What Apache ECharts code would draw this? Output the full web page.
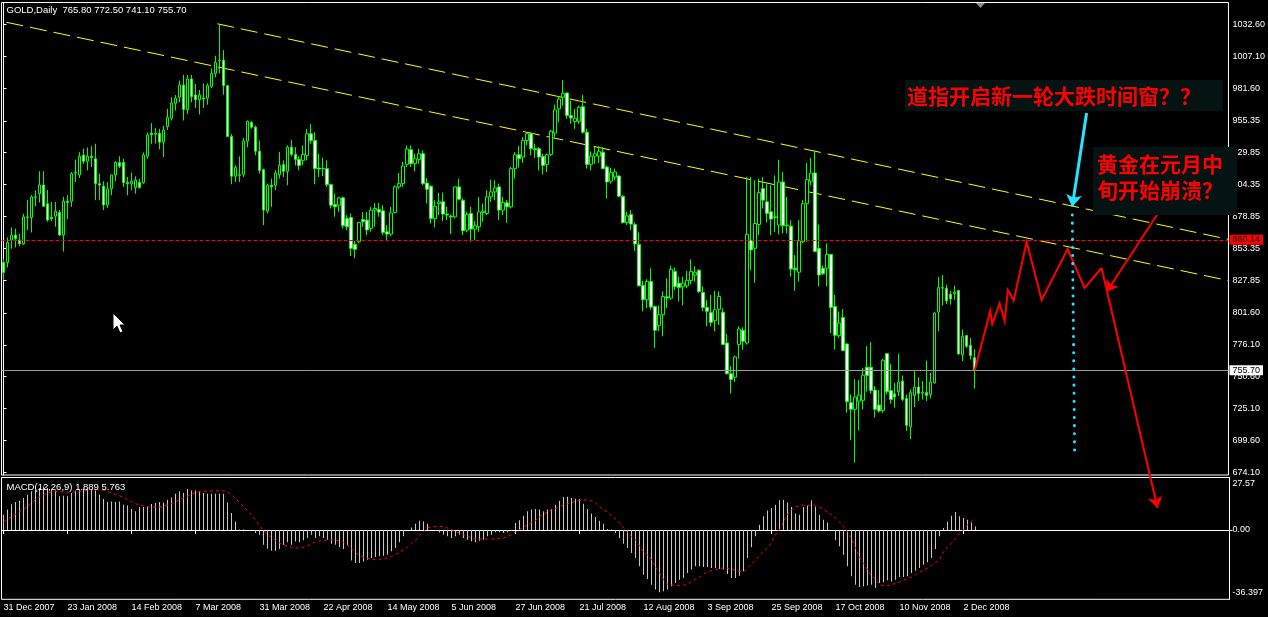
<!DOCTYPE html>
<html><head><meta charset="utf-8">
<script src="https://cdn.jsdelivr.net/npm/echarts@6/dist/echarts.min.js"></script>
<style>html,body{margin:0;padding:0;background:#000;}#c{width:1268px;height:617px;}</style>
</head><body><div id="c"></div>
<script>
// ---------- data ----------
const symbolName = 'GOLD,Daily';
const lastBar = ['765.80', '772.50', '741.10', '755.70'];
const macdTitle = 'MACD(12,26,9) 1.889 5.763';
const slotCount = 307;            // daily slots incl. empty future area
const dateLabels = ['31 Dec 2007','23 Jan 2008','14 Feb 2008','7 Mar 2008','31 Mar 2008','22 Apr 2008',
  '14 May 2008','5 Jun 2008','27 Jun 2008','21 Jul 2008','12 Aug 2008','3 Sep 2008','25 Sep 2008',
  '17 Oct 2008','10 Nov 2008','2 Dec 2008'];
const dateLabelStep = 16;
const priceTicks = [1032.60,1007.10,981.60,955.35,929.85,904.35,878.85,853.35,827.85,801.60,776.10,750.60,725.10,699.60,674.10];
const macdTicks = [27.57, 0, -36.397];
const macdTickText = ['27.57', '0.00', '-36.397'];
const priceLevel = 860.14;
const bidLevel = 755.70;
// [open, close, low, high]
const candles = [
[842,834,828,845],[842,858,838,862],[860,864,853,870],[864,861,854,869],[860,857,855,865],
[857,878.5,856,881],[878,878.5,868,892],[878,894.5,866,896],[894,894.5,887,899.8],[897,904,890,915],
[904,887,886.5,915],[889,876,874.6,900],[878,877,875,890.5],[879,883,870.6,890.5],[882,864,863.1,884],
[864,891,850.7,894.5],[891,890,876.7,896],[891,913,886.5,914.4],[913.5,914,906.4,924.2],[912,927,909.6,930.3],
[928,923,921,933],[923,927,915.7,934],[927,926,918.4,935],[925,905,892,937],[905,904,891.8,913],
[903,888,883.9,907],[888,901,885.7,906.4],[901,912,895.8,912.3],[912,922,907,923],[922,919,917.6,927],
[922,906,902.4,925],[906,905,895.8,910.4],[905,907,899.8,913.9],[902,908,897,911],[906,902,901,909],
[906,928,905,930],[927,944,925,946],[945.5,944.2,937,953.5],[944.5,945.5,937,949.7],[945.5,938.3,932.5,949],
[938.3,948,926.4,951.6],[950.8,958.2,948,965],[957.4,969.7,955.6,974.2],[969.4,973.4,963.6,976],[974.2,984,970.2,987.5],
[984,964.4,955.6,992.2],[964.4,988.8,960.9,992],[988.8,974.7,970.2,992],[976,972.3,965.7,984.8],[972.3,976,960.4,980],
[973.6,972.8,965.7,985.3],[973.6,983.5,968.3,985.3],[983,993.3,981.6,997.3],[993.3,1002.1,990.1,1007.4],[1003.4,1003.9,993.3,1032.1],
[1003.9,983.5,976.3,1011.9],[983.5,942.8,942.3,983.5],[942.8,911,904.6,944.8],[911,917.9,906.4,919.7],[912.3,911.8,906.4,926.9],
[912.6,939.1,910.4,941.8],[939.1,955.1,934.3,955.6],[954.2,950.3,949,955.1],[950.3,931.1,927.7,951.6],[931.1,915.7,913.1,939.6],
[916.3,883.9,871.9,917.1],[883.1,903.8,881.2,905.1],[903.8,902.5,886.5,909.1],[903.8,913.6,899.8,915.7],[912.3,919.7,909.1,930.4],
[920.3,915,910.4,923.7],[914.9,934.3,903.8,935.7],[934.3,928.5,926.9,940.2],[928.5,924.5,919.7,934.3],[924.5,919.7,915.7,926.9],
[923.7,928.5,919.7,935.7],[927.7,945,923.7,948.9],[945,939.6,937,952.9],[939.6,917.1,904.6,946.3],[917.6,916.8,910.4,929],
[917.1,917.3,911,925.9],[917.1,904.3,902.5,923.7],[904.3,887.8,885.2,905.1],[888.4,886.5,878.6,897.1],[887.8,893.7,882.5,894.5],
[893.7,871.4,869.3,894.5],[877.2,870.6,867.9,879.9],[878,853.3,847.2,881.2],[856.5,852.5,845.4,859.2],[858.6,874,857.3,874.6],
[876.4,874.6,870.6,882.5],[875.9,868,864,882.5],[869.3,883.9,866.6,886.5],[883.9,885.2,870.6,889.7],[884.4,882.3,878.6,889.7],
[883.3,866.1,864,887.8],[866.6,864.7,860,871.9],[864.7,881.7,863.2,886.5],[882,902.5,881.2,903.8],[902.5,905.1,901,913.6],
[905.1,919.2,902.5,922.4],[920.5,932.7,918.4,935.7],[932.2,921.1,918.4,935.7],[921.1,925,914.9,929],[924.5,929,921,933],
[929,905.1,903.8,931.7],[905.6,900.6,889.2,909.6],[903,877.2,873.2,903.8],[877.2,887,870,891.8],[889.2,890.5,879.9,897.7],
[890.5,880.7,875.1,898],[880.7,880,875.9,886.5],[879.1,878.5,864.7,880.4],[878.5,902.5,877.2,903],[902.5,892.6,891.8,909.1],
[891.8,867.4,863.9,893.2],[867.9,880.4,866.1,882.5],[881.2,868.7,858.6,886.5],[868.7,871.4,859.9,875.1],[870.6,882.5,866.6,894.5],
[882,883,874.6,889.2],[881.2,894.5,880,899.8],[894.5,898.5,890.5,908.3],[898.5,901.7,891.8,907.8],[902.5,883.9,875.9,905.1],
[883.9,890,879.9,894.5],[889.7,886.5,873.8,891.8],[886.5,917.1,885.2,918.4],[917.1,928.2,909.1,930.3],[928.2,925,917.9,935.1],
[926.4,939.6,921.6,942.3],[939.6,945,935.7,946.3],[945,933,927.7,946.3],[933,932.2,925.6,937],[933,926.4,915.7,934.3],
[926.9,919.7,912.3,929],[920.5,928.2,914.4,929],[928.5,947.1,927.1,948.1],[945.5,964.1,942.3,968.3],[964.9,972.8,954.2,974.9],
[974.2,977.3,967.5,988],[977.6,959.6,957,978],[959.6,957.7,952.9,971.5],[954.8,957.4,948.9,964.9],[955,966.2,952.9,967.5],
[966.7,946.3,945,976],[946.3,920.5,917.1,949],[920.5,927.1,915.7,930.9],[927.1,929,921,934.3],[927.1,931,921.6,935.1],
[930.3,917.1,917.1,934.3],[918.4,906.4,893.2,919.7],[907,913.9,905.1,917.6],[910.4,914.4,907.8,917.1],[911.2,895,894.5,911.7],
[895,874,873.2,895.8],[874,879.3,871.9,882.5],[880.4,872.7,867.9,883.9],[872.4,856.8,851.2,874],[856.5,823.3,822.8,866.1],
[823.6,812.2,802.9,827.3],[812.2,826.7,805.5,828.6],[826.7,806.3,804.2,837.4],[806.8,787.7,773.6,807.6],[791.4,800.2,787,807.6],
[800.2,814.8,782.9,818.8],[814.5,813.5,805.5,829.4],[813.5,836.6,812.2,839.5],[834.7,822.8,820.1,837.9],[825.4,822,810.8,830.7],
[822.5,825.4,807.6,830.7],[823.3,827.8,821.4,835.2],[827.5,834.7,824.6,844.5],[832,834.2,826.7,839],[835.8,818.8,817.5,836.6],
[818,806,802.9,822.8],[806,802.9,790.9,812],[801.9,794.1,790.9,816.1],[795.4,804.2,787,819.3],[804.5,814.8,792,818.8],
[802.1,776.3,776.3,805.5],[777.6,753,752.4,784.8],[752.9,748.4,737,759],[750.2,766.4,746.5,767.5],[776.3,788.8,765.1,790.9],
[787.7,779,772.3,790.1],[777.6,864.5,776.3,910.4],[859.9,852,836.1,910.4],[853.3,873.2,825.7,907.8],[872.4,897.9,863.9,909.1],
[901.1,891.8,885.2,910.4],[890.5,881.2,874,905.1],[882.5,876.7,863.9,903.8],[878.5,878,866.6,911.7],[871.9,906.4,864.5,924.2],
[906.4,871.4,865.3,914.4],[871.4,872,865.3,894.5],[871.1,836.8,830.7,875.9],[837.4,836.1,819.3,848],[834.2,859.4,826.7,875.9],
[858.6,889,857.3,891.8],[889.2,908.3,858.6,921.8],[907,913.6,903.8,925.6],[913.6,850.7,850.7,931.7],[853.3,832,822.8,872.4],
[837.4,832.9,832.1,839.5],[837.4,848.5,822.8,857.3],[848.5,806,785.6,848.5],[806.8,783.7,772.3,816.1],[783.5,793.5,781.6,802.8],
[798,771.5,771,804.7],[776.8,730.6,721.8,777.6],[729.8,724.5,699.8,736.4],[724.5,734.3,681.9,748.9],[731,735.9,707.7,747.9],
[731.7,751.8,724.5,757.7],[758.2,751.6,738.6,775],[758.2,739.6,736.9,778.4],[739.9,724.5,717.8,743.1],[727.9,723.2,721.8,739.9],
[723.6,763.8,721.8,764.9],[769,738.6,736.4,769.6],[739.6,732.4,729,761],[736.9,734.3,725.8,745.7],[738.6,746.3,735.1,768.8],
[747.1,732.4,731.1,751.6],[733.2,711.7,707.2,736.4],[710.7,737.8,700.6,740.4],[735.6,742.3,726.3,755],[742.3,737.2,731.1,750.2],
[737.4,738.3,732.4,747.1],[738,735.6,731.1,763.5],[736.4,746.3,733.2,753.7],[745.7,801.5,744.9,802.3],[802.3,821.9,786.9,830.6],
[821.4,822,807.6,832],[821.4,811.3,808.7,824.1],[816.6,812.9,808.2,819.3],[817,818.3,812.1,823.5],[819.6,768.8,768.3,820.1],
[768.3,782.9,763,788.2],[783.5,775,773.6,784.2],[775.7,767.5,764.3,781.6],[765.8,755.7,741.1,772.5]
];
const macdMain = [
8.0,10.7,13.5,14.7,15.4,16.8,18.5,20.3,21.2,22.0,
22.9,22.0,21.2,20.8,17.7,18.0,17.7,19.4,20.8,21.2,
21.5,21.5,21.5,20.8,18.5,16.3,14.7,15.0,14.7,15.0,
13.3,12.8,11.0,9.8,12.1,12.1,12.4,13.6,14.2,14.7,
14.5,15.9,17.1,19.1,20.3,19.4,21.5,20.8,20.8,20.3,
19.4,19.1,19.1,19.1,19.1,19.1,14.5,8.9,4.4,0.2,
0.2,0.05,0.0,-1.6,-2.5,-7.7,-9.8,-10.9,-10.9,-10.0,
-7.7,-6.5,-7.7,-6.0,-6.5,-5.4,-4.2,-2.5,-4.2,-3.3,
-4.2,-5.1,-7.2,-7.7,-9.0,-10.0,-8.2,-16.0,-17.3,-17.3,
-16.5,-15.6,-14.7,-14.2,-13.8,-13.5,-13.0,-11.2,-9.5,-6.5,
-3.3,-0.2,1.3,3.3,4.9,4.5,3.3,0.0,-0.5,-1.3,
-2.5,-3.3,-4.2,-3.3,-2.5,-4.2,-5.1,-5.9,-6.5,-5.6,
-5.1,-3.3,-2.5,-1.2,-1.2,-1.6,-1.2,-0.2,3.7,5.1,
7.5,9.8,10.7,11.0,10.7,9.8,10.7,11.0,13.3,15.4,
17.3,17.5,16.8,16.4,16.3,13.8,11.0,8.6,6.8,4.9,
3.3,0.5,0.2,-1.6,-4.2,-7.2,-9.5,-12.1,-14.7,-19.1,
-23.5,-25.7,-28.7,-31.3,-32.7,-32.2,-31.3,-29.6,-27.8,-26.1,
-25.2,-22.6,-20.8,-19.1,-19.1,-19.4,-19.4,-20.0,-20.0,-20.5,
-20.8,-23.1,-25.2,-25.2,-24.0,-21.7,-14.7,-9.1,-3.3,2.8,
7.2,10.3,11.5,13.3,15.6,15.9,14.5,12.1,8.6,8.0,
12.1,12.8,15.6,12.4,8.0,5.4,4.0,0.0,-5.4,-8.6,
-13.0,-19.1,-24.3,-28.7,-30.0,-29.6,-29.2,-28.7,-30.5,-27.8,
-27.5,-26.4,-27.0,-26.1,-24.7,-24.7,-24.3,-22.6,-21.4,-20.0,
-18.2,-17.0,-14.7,-10.0,-3.3,1.0,4.5,7.5,9.4,7.2,
6.3,5.4,4.0,1.889
];
const macdSignal = [
4.2,5.5,7.0,8.2,9.5,10.7,12.5,14.2,16.0,17.3,
18.5,19.4,19.9,20.3,20.2,20.0,19.8,19.9,20.0,20.3,
20.6,20.7,21.0,21.2,21.1,20.8,20.2,19.6,18.7,17.9,
17.3,16.0,14.8,13.8,13.2,12.8,12.3,12.1,12.1,12.2,
12.4,13.0,13.9,14.9,16.0,16.8,17.8,18.8,19.6,20.0,
20.3,20.5,20.5,20.6,20.6,20.6,20.0,18.6,16.5,14.5,
12.4,10.2,8.0,5.2,2.4,-0.4,-2.4,-4.0,-5.6,-6.8,
-7.7,-8.4,-9.0,-9.4,-9.4,-9.1,-8.2,-7.3,-6.3,-5.8,
-5.4,-5.2,-5.1,-5.3,-5.8,-6.5,-8.0,-9.9,-11.9,-13.3,
-14.2,-14.8,-15.3,-15.6,-15.5,-15.2,-14.6,-13.9,-12.8,-11.6,
-10.6,-9.0,-7.0,-5.5,-3.0,-0.8,1.0,1.7,1.9,1.9,
1.8,1.0,0.3,-0.7,-1.6,-2.5,-3.4,-4.1,-4.7,-4.7,
-4.7,-4.7,-4.7,-4.6,-4.4,-4.2,-3.4,-2.5,-1.1,0.2,
1.5,2.7,4.0,5.1,6.9,8.3,9.4,10.5,11.2,12.2,
13.3,13.7,14.4,15.0,15.6,15.8,15.8,15.2,14.2,12.3,
10.6,9.3,7.5,5.8,3.8,1.3,-1.2,-3.5,-5.1,-8.2,
-11.5,-13.0,-15.6,-19.5,-22.5,-26.1,-28.5,-28.8,-29.2,-29.2,
-29.0,-28.7,-27.1,-25.8,-24.8,-23.2,-21.8,-21.3,-20.9,-20.2,
-20.0,-20.1,-20.6,-21.3,-21.7,-22.1,-20.0,-17.8,-15.8,-13.3,
-11.3,-9.5,-6.5,-2.5,0.2,4.3,8.2,10.6,12.2,12.7,
12.8,12.8,13.2,13.0,12.1,10.9,9.4,8.0,6.3,4.2,
1.8,-1.0,-4.5,-9.6,-14.3,-17.5,-20.8,-24.3,-26.1,-28.9,
-29.2,-29.2,-28.8,-28.0,-27.5,-26.4,-25.6,-24.7,-23.5,-22.2,
-21.0,-20.0,-18.5,-17.1,-15.6,-11.5,-9.0,-7.0,-4.5,-2.0,
0.0,2.8,4.6,5.763
];
// drawn objects, [bar position, price]
const channelLower = [[0.75, 1034.2], [306.5, 827.5]];
const channelUpper = [[53.5, 1033.0], [306.5, 860.5]];
const forecastPath = [[243, 755.7],[246.9, 803.2],[247.4, 792.8],[249.25, 809.3],[250.5, 795.2],[251.3, 820.0],
  [252.75, 811.4],[256, 858.6],[259.75, 812.0],[266.25, 852.8],[270.5, 821.6],[274.75, 837.6],[288.75, 645.6]];
const cyanArrow = [[271, 961.6], [267.4, 886.6]];
const cyanDots = [[267.4, 880], [268, 690.3]];
const redArrow = [[289, 882], [276, 818.4]];
const noteDow = '道指开启新一轮大跌时间窗？？';
const noteGold = ['黄金在元月中', '旬开始崩溃？'];

// ---------- chart ----------
const slots = Array.from({length: slotCount}, (_, i) => 'b' + i);
const FONT = '"Liberation Sans", Arial, sans-serif';
const CJK = '"Noto Sans CJK SC", sans-serif';
const isDateSlot = (i) => i % dateLabelStep === 0 && i / dateLabelStep < dateLabels.length;

const chart = echarts.init(document.getElementById('c'), null, {renderer: 'canvas'});
const gridMain = {left: 1.5, right: 38.5, top: 2.5, bottom: 142};
const gridMacd = {left: 1.5, right: 38.5, top: 477.5, bottom: 17.7};

const linesSeries = (name, coords, style, extra) => Object.assign({
  name, type: 'lines', coordinateSystem: 'cartesian2d', xAxisIndex: 2, yAxisIndex: 0,
  polyline: coords.length > 2, clip: false, silent: true, z: 5,
  data: [{coords}], lineStyle: Object.assign({opacity: 1, curveness: 0}, style), symbol: 'none'
}, extra || {});
const arrowHead = {symbol: ['none', 'arrow'], symbolSize: [7, 11]};

chart.setOption({
  animation: false,
  backgroundColor: '#000000',
  grid: [
    Object.assign({show: true, borderColor: '#ffffff', borderWidth: 1, backgroundColor: '#000'}, gridMain),
    Object.assign({show: true, borderColor: '#ffffff', borderWidth: 1, backgroundColor: '#000'}, gridMacd)
  ],
  xAxis: [
    {type: 'category', gridIndex: 0, data: slots, boundaryGap: true, show: false},
    {type: 'category', gridIndex: 1, data: slots, boundaryGap: true,
      axisLine: {lineStyle: {color: '#fff', width: 1}},
      axisTick: {show: true, alignWithLabel: true, length: 4, interval: (i) => isDateSlot(i), lineStyle: {color: '#fff'}},
      axisLabel: {show: true, interval: (i) => isDateSlot(i), align: 'left', margin: 4, color: '#fff',
        fontFamily: FONT, fontSize: 9, formatter: (v, i) => isDateSlot(i) ? dateLabels[i / dateLabelStep] : ''},
      splitLine: {show: false}},
    {type: 'value', gridIndex: 0, min: -0.5, max: slotCount - 0.5, show: false}
  ],
  yAxis: [
    {type: 'value', gridIndex: 0, position: 'right', min: 671.94, max: 1050.04, scale: true,
      axisLine: {show: true, lineStyle: {color: '#fff'}},
      axisTick: {show: true, length: 3, customValues: priceTicks, lineStyle: {color: '#fff'}},
      axisLabel: {show: true, customValues: priceTicks, color: '#fff', fontFamily: FONT, fontSize: 9, margin: 4,
        formatter: (v) => v.toFixed(2)},
      splitLine: {show: false}},
    {type: 'value', gridIndex: 1, position: 'right', min: macdTicks[2], max: macdTicks[0], scale: true,
      axisLine: {show: true, lineStyle: {color: '#fff'}},
      axisTick: {show: true, length: 3, customValues: [0], lineStyle: {color: '#fff'}},
      axisLabel: {show: true, customValues: macdTicks, color: '#fff', fontFamily: FONT, fontSize: 9, margin: 3,
        formatter: (v) => {
          const k = macdTicks.indexOf(v);
          const t = k >= 0 ? macdTickText[k] : String(v);
          return k === 0 ? '{t|' + t + '}' : k === 2 ? '{b|' + t + '}' : t;
        },
        rich: {t: {padding: [13, 0, 0, 0], color: '#fff', fontFamily: FONT, fontSize: 9},
               b: {padding: [0, 0, 13, 0], color: '#fff', fontFamily: FONT, fontSize: 9}}},
      splitLine: {show: false}}
  ],
  series: [
    linesSeries('channelLower', channelLower, {color: '#ffff00', width: 1, type: [17, 7]}, {z: 2}),
    linesSeries('channelUpper', channelUpper, {color: '#ffff00', width: 1, type: [17, 7]}, {z: 2}),
    {
      name: 'GOLD', type: 'candlestick', xAxisIndex: 0, yAxisIndex: 0, barWidth: 3, z: 3,
      data: candles,
      itemStyle: {color: '#000000', color0: '#ffffff', borderColor: '#00ff00', borderColor0: '#00ff00', borderWidth: 1},
      markLine: {
        symbol: 'none', silent: true, animation: false, z: 4,
        data: [
          {yAxis: priceLevel, lineStyle: {color: '#ff0000', width: 1, type: [4, 2]},
            label: {show: true, position: 'end', distance: 1, formatter: priceLevel.toFixed(2), color: '#000',
              backgroundColor: '#ff0000', padding: [1, 3, 0, 3], fontFamily: FONT, fontSize: 9}},
          {yAxis: bidLevel, lineStyle: {color: '#9a9a9a', width: 1, type: 'solid'},
            label: {show: true, position: 'end', distance: 1, formatter: bidLevel.toFixed(2), color: '#000',
              backgroundColor: '#ffffff', padding: [1, 3, 0, 3], fontFamily: FONT, fontSize: 9}}
        ]
      }
    },
    linesSeries('forecast', forecastPath.slice(0, -1), {color: '#ff0000', width: 2}, {z: 6}),
    linesSeries('forecastEnd', forecastPath.slice(-2), {color: '#ff0000', width: 2}, Object.assign({z: 6}, arrowHead)),
    linesSeries('redArrow', redArrow, {color: '#ff0000', width: 2}, Object.assign({z: 6}, arrowHead)),
    linesSeries('cyanArrow', cyanArrow, {color: '#22e6ff', width: 3}, Object.assign({z: 6}, arrowHead, {symbolSize: [9, 12]})),
    linesSeries('cyanDots', cyanDots, {color: '#22e6ff', width: 3, type: [0.1, 8], cap: 'round'}, {z: 6}),
    {
      name: 'MACD', type: 'bar', xAxisIndex: 1, yAxisIndex: 1, barWidth: 1, data: macdMain,
      itemStyle: {color: '#c8c8c8'}, silent: true
    },
    {
      name: 'Signal', type: 'line', xAxisIndex: 1, yAxisIndex: 1, data: macdSignal, showSymbol: false,
      lineStyle: {color: '#ff0000', width: 1, type: [3, 3]}, silent: true, z: 4
    }
  ],
  graphic: [
    {type: 'text', left: 6.5, top: 5, z: 10, style: {text: symbolName + '  ' + lastBar.join(' '), fill: '#fff', fontFamily: FONT, fontSize: 9.5}},
    {type: 'text', left: 6.5, top: 482, z: 10, style: {text: macdTitle, fill: '#fff', fontFamily: FONT, fontSize: 9.5}},
    {type: 'polygon', z: 10, shape: {points: [[976, 3], [985, 3], [980.5, 8]]}, style: {fill: '#8a8a8a'}},
    {type: 'polygon', z: 10, shape: {points: [[113, 313], [113, 330], [117, 326], [120, 333], [123, 331.5], [120, 325], [125, 325]]},
      style: {fill: '#fff', stroke: '#000', lineWidth: 1}},
    {type: 'rect', z: 20, shape: {x: 905, y: 80, width: 318, height: 31}, style: {fill: '#061313'}},
    {type: 'text', z: 21, x: 907, y: 96, style: {text: noteDow, fill: '#ff0000', fontFamily: CJK, fontSize: 21, fontWeight: 'bold', verticalAlign: 'middle'}},
    {type: 'rect', z: 20, shape: {x: 1093, y: 147, width: 144, height: 68}, style: {fill: '#061313'}},
    {type: 'text', z: 21, x: 1097, y: 164, style: {text: noteGold[0], fill: '#ff0000', fontFamily: CJK, fontSize: 21, fontWeight: 'bold', verticalAlign: 'middle'}},
    {type: 'text', z: 21, x: 1097, y: 190, style: {text: noteGold[1], fill: '#ff0000', fontFamily: CJK, fontSize: 21, fontWeight: 'bold', verticalAlign: 'middle'}}
  ]
});
</script></body></html>
